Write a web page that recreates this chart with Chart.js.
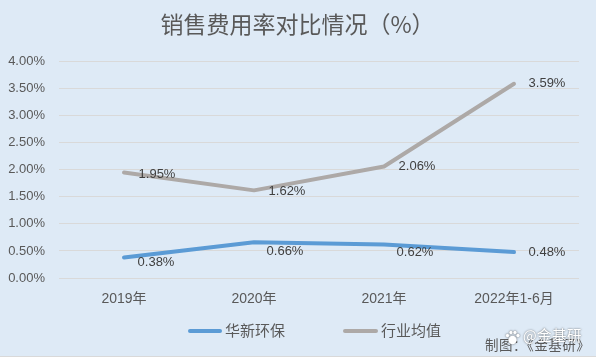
<!DOCTYPE html>
<html><head><meta charset="utf-8">
<style>html,body{margin:0;padding:0;background:#DEEAF6;overflow:hidden}canvas{display:block}</style>
<script src="https://cdn.jsdelivr.net/npm/chart.js@4"></script>
</head><body><canvas id="c" width="596" height="357"></canvas>
<script>
const categories = ['2019年','2020年','2021年','2022年1-6月'];
const huaxin = [0.38,0.66,0.62,0.48];
const industry = [1.95,1.62,2.06,3.59];
const seriesNames = ['华新环保','行业均值'];
const titleText = '销售费用率对比情况（%）';
const credit = '制图：《金基研》';
const watermark = '@金基研';
const FONT = '"Liberation Sans","Noto Sans CJK SC",sans-serif';
const CJK = '"Noto Sans CJK SC",sans-serif';
const labelOffsets = [
  [[32,5],[31,9],[31,8],[33,0.5]],
  [[33,2],[33,1],[33,0],[33,0]]
];
const legendSpots = [[190,220,225],[345,376,381]];
const extras = {
  id:'extras',
  afterDatasetsDraw(ch){
    const c=ch.ctx;
    c.save();
    c.font='13px '+FONT; c.fillStyle='#404040'; c.textAlign='center'; c.textBaseline='middle';
    ch.data.datasets.forEach((ds,i)=>{
      const m=ch.getDatasetMeta(i);
      m.data.forEach((p,j)=>{
        const o=labelOffsets[i][j];
        c.fillText(ds.data[j].toFixed(2)+'%',p.x+o[0],p.y+o[1]);
      });
    });
    c.restore();
  },
  afterDraw(ch){
    const c=ch.ctx;
    c.save();
    ch.data.datasets.forEach((ds,i)=>{
      const s=legendSpots[i];
      c.strokeStyle=ds.borderColor; c.lineWidth=4; c.lineCap='round';
      c.beginPath(); c.moveTo(s[0],331); c.lineTo(s[1],331); c.stroke();
      c.font='15px '+CJK; c.fillStyle='#595959'; c.textAlign='left'; c.textBaseline='middle';
      c.fillText(ds.label,s[2],330);
    });
    c.fillStyle='#D9D9D9'; c.fillRect(0,356,596,1);
    c.letterSpacing='0.5px';
    c.font='13.5px '+CJK; c.fillStyle='#595959'; c.textAlign='left'; c.textBaseline='middle';
    c.fillText(credit,485,345);
    c.letterSpacing='0.4px';
    c.shadowColor='rgba(50,50,50,0.8)'; c.shadowBlur=2;
    c.fillStyle='#FFFFFF';
    c.font='14.5px '+CJK;
    c.fillText(watermark,523,335);
    c.letterSpacing='0px';
    [[512.5,340,4.2],[507.5,335.5,1.7],[511,332.5,1.7],[515,332.5,1.7],[518,335.5,1.7]].forEach(a=>{
      c.beginPath();c.arc(a[0],a[1],a[2],0,Math.PI*2);c.fill();
    });
    c.restore();
  }
};
new Chart(document.getElementById('c'),{
  type:'line',
  plugins:[extras],
  data:{labels:categories,datasets:[
    {label:seriesNames[0],data:huaxin,borderColor:'#5B9BD5',backgroundColor:'#5B9BD5',borderWidth:4,pointRadius:0,borderCapStyle:'round',borderJoinStyle:'round',tension:0},
    {label:seriesNames[1],data:industry,borderColor:'#ADA9A7',backgroundColor:'#ADA9A7',borderWidth:4,pointRadius:0,borderCapStyle:'round',borderJoinStyle:'round',tension:0}
  ]},
  options:{
    responsive:false,animation:false,
    layout:{padding:{left:16,right:17,top:0,bottom:43}},
    plugins:{
      tooltip:{enabled:false},
      title:{display:true,text:titleText,color:'#595959',font:{family:CJK,size:23,weight:'normal'},padding:{top:10,bottom:24}},
      legend:{display:false}
    },
    scales:{
      x:{offset:true,grid:{display:false},border:{display:false},
        ticks:{color:'#595959',font:{family:FONT,size:14},padding:5,maxRotation:0},
        afterFit(s){s.height=36;}},
      y:{min:0,max:4,grid:{color:'#D9D9D9',drawTicks:false,lineWidth:1},border:{display:false},
        ticks:{stepSize:0.5,color:'#595959',font:{family:FONT,size:13},padding:14,callback:v=>v.toFixed(2)+'%'},
        afterFit(s){s.width=43; s._computeLabelArea=()=>undefined;}}
    }
  }
});
</script></body></html>
